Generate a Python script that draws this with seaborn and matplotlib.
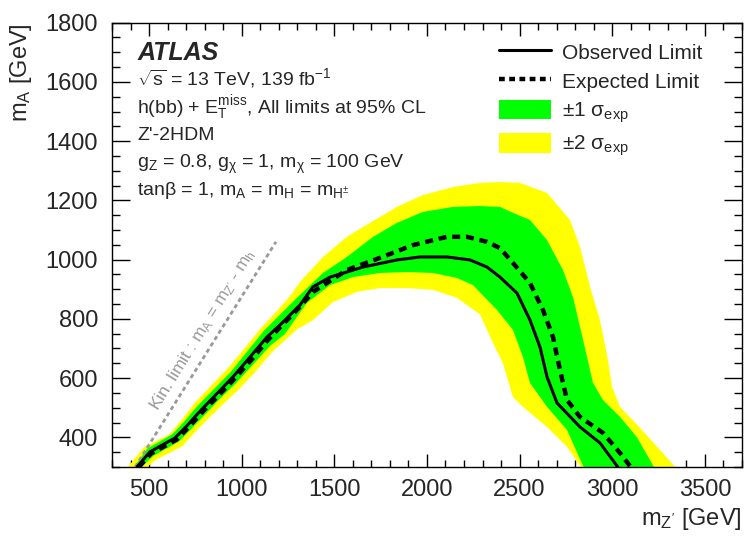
import numpy as np
import matplotlib
matplotlib.use("Agg")
import matplotlib.pyplot as plt
from matplotlib.lines import Line2D
from matplotlib.patches import Patch
from matplotlib.ticker import MultipleLocator
import seaborn as sns

# observed / expected limit contours (m_Z', m_A) in GeV
obs_x = [435, 505, 640, 700, 775, 867, 953, 1045, 1137, 1218, 1315, 1385, 1477, 1655,
         1838, 1962, 2108, 2232, 2324, 2394, 2486, 2556, 2610, 2648, 2702, 2826, 2934, 3030]
obs_y = [300, 351, 398, 436, 488, 548, 604, 671, 739, 786, 847, 908, 941, 975,
         999, 1009, 1009, 999, 975, 941, 887, 796, 705, 604, 516, 435, 381, 300]

exp_x = [445, 510, 650, 710, 790, 880, 960, 1050, 1140, 1220, 1310, 1385, 1568, 1746,
         1924, 2108, 2216, 2324, 2394, 2464, 2556, 2626, 2680, 2718, 2756, 2826, 2950, 3042, 3100]
exp_y = [300, 345, 393, 432, 487, 545, 597, 660, 728, 780, 838, 891, 965, 1006,
         1049, 1077, 1077, 1060, 1039, 989, 921, 830, 739, 627, 526, 469, 415, 347, 300]

# +1 sigma / -1 sigma contours
p1_x = [420, 490, 625, 685, 760, 855, 940, 1030, 1120, 1200, 1290, 1439, 1568, 1709, 1838,
        1978, 2140, 2286, 2394, 2464, 2556, 2648, 2734, 2788, 2826, 2864, 2896, 2950, 3042, 3133, 3225]
p1_y = [300, 362, 410, 450, 505, 566, 620, 690, 760, 810, 866, 955, 1009, 1077, 1124,
        1161, 1178, 1181, 1178, 1158, 1134, 1066, 965, 874, 773, 671, 584, 526, 469, 401, 300]
m1_x = [460, 525, 660, 718, 795, 882, 968, 1060, 1152, 1232, 1352, 1477, 1601, 1746, 1892,
        2032, 2162, 2248, 2378, 2464, 2518, 2556, 2648, 2756, 2845]
m1_y = [300, 338, 385, 422, 472, 530, 582, 645, 708, 748, 854, 914, 941, 955, 958,
        955, 938, 914, 830, 763, 671, 584, 503, 425, 300]

# +2 sigma / -2 sigma contours
p2_x = [386, 470, 610, 672, 745, 840, 928, 1018, 1108, 1188, 1262, 1315, 1439, 1568, 1692, 1838,
        1978, 2140, 2286, 2394, 2502, 2648, 2772, 2826, 2880, 2934, 2977, 2999, 3042, 3150, 3258, 3340]
p2_y = [300, 365, 410, 456, 515, 578, 635, 703, 772, 825, 878, 925, 1009, 1077, 1124, 1178,
        1218, 1245, 1259, 1262, 1259, 1225, 1134, 1043, 908, 796, 661, 570, 503, 432, 357, 300]
m2_x = [489, 540, 680, 735, 812, 900, 985, 1075, 1167, 1230, 1300, 1385, 1493, 1622, 1746, 1892,
        2032, 2162, 2286, 2356, 2410, 2464, 2518, 2648, 2756, 2830]
m2_y = [300, 325, 370, 408, 458, 512, 562, 622, 690, 725, 765, 796, 857, 891, 904, 904,
        898, 871, 815, 719, 651, 536, 503, 435, 368, 300]

# kinematic limit m_A = m_Z' - m_h
kin_x = [425, 1185]
kin_y = [300, 1060]

sns.set_style("ticks")
plt.rcParams['font.family'] = ['Liberation Sans', 'DejaVu Sans']
plt.rcParams['mathtext.fontset'] = 'custom'
plt.rcParams['mathtext.rm'] = 'Liberation Sans'
plt.rcParams['mathtext.it'] = 'Liberation Sans:italic'
plt.rcParams['mathtext.bf'] = 'Liberation Sans:bold'

fig = plt.figure(figsize=(7.45, 5.37), dpi=100)
ax = fig.add_axes([0.1503, 0.1304, 0.8456, 0.8274])

yellow = '#ffff00'
green = '#00ff00'

ax.fill(np.concatenate([p2_x, m2_x[::-1]]), np.concatenate([p2_y, m2_y[::-1]]),
        color=yellow, lw=0, zorder=1)
ax.fill(np.concatenate([p1_x, m1_x[::-1]]), np.concatenate([p1_y, m1_y[::-1]]),
        color=green, lw=0, zorder=2)

ax.plot(kin_x, kin_y, color='#999999', lw=2, ls=(0, (1.5, 1.2)), zorder=3)
sns.lineplot(x=exp_x, y=exp_y, sort=False, estimator=None, ax=ax,
             color='black', lw=3.2, ls=(0, (1.8, 1.3)), zorder=4)
sns.lineplot(x=obs_x, y=obs_y, sort=False, estimator=None, ax=ax,
             color='black', lw=2.2, zorder=5)

ax.text(790, 762, r"Kin. limit : m$_{\mathrm{A}}$ = m$_{\mathrm{Z'}}$ - m$_{\mathrm{h}}$",
        color='#999999', fontsize=12.5, rotation=58.4, rotation_mode='anchor',
        ha='center', va='center')

ax.set_xlim(300, 3700)
ax.set_ylim(300, 1800)
ax.xaxis.set_major_locator(MultipleLocator(500))
ax.xaxis.set_minor_locator(MultipleLocator(100))
ax.yaxis.set_major_locator(MultipleLocator(200))
ax.yaxis.set_minor_locator(MultipleLocator(50))
ax.tick_params(which='both', direction='in', top=True, right=True, width=1, color='black')
ax.tick_params(axis='y', which='major', length=13, labelsize=17, pad=10)
ax.tick_params(axis='y', which='minor', length=6)
ax.tick_params(axis='x', which='major', length=9.5, labelsize=17, pad=9)
ax.tick_params(axis='x', which='minor', length=5)
for s in ax.spines.values():
    s.set_linewidth(1)
    s.set_color('black')

ax.set_xlabel(r"m$_{\mathrm{Z'}}$ [GeV]", fontsize=17, loc='right')
ax.set_ylabel(r"m$_{\mathrm{A}}$ [GeV]", fontsize=17, loc='top')
ax.xaxis.set_label_coords(1.0, -0.088)
ax.yaxis.set_label_coords(-0.124, 1.0)

tx = 0.04
ax.text(tx, 0.916, "ATLAS", transform=ax.transAxes, fontsize=18,
        fontweight='bold', fontstyle='italic', va='baseline')
lines = [
    (0.860, r"$\sqrt{\mathrm{s}}$ = 13 TeV, 139 fb$^{\mathrm{-1}}$"),
    (0.797, r"h(bb) + E$_{\mathrm{T}}^{\mathrm{miss}}$, All limits at 95% CL"),
    (0.736, "Z'-2HDM"),
    (0.673, r"g$_{\mathrm{Z}}$ = 0.8, g$_{\mathrm{χ}}$ = 1, m$_{\mathrm{χ}}$ = 100 GeV"),
    (0.612, r"tanβ = 1, m$_{\mathrm{A}}$ = m$_{\mathrm{H}}$ = m$_{\mathrm{H^{\pm}}}$"),
]
for y, s in lines:
    ax.text(tx, y, s, transform=ax.transAxes, fontsize=14, va='baseline')

handles = [
    Line2D([], [], color='black', lw=2.2),
    Line2D([], [], color='black', lw=3.2, ls=(0, (1.3, 1.0))),
    Patch(facecolor=green, edgecolor='none'),
    Patch(facecolor=yellow, edgecolor='none'),
]
labels = ["Observed Limit", "Expected Limit",
          r"$\pm$1 σ$_{\mathrm{exp}}$", r"$\pm$2 σ$_{\mathrm{exp}}$"]
ax.legend(handles, labels, loc='upper left', bbox_to_anchor=(0.614, 0.957),
          frameon=False, fontsize=15, handlelength=2.5, handleheight=1.05,
          handletextpad=0.55, labelspacing=0.4, borderpad=0, borderaxespad=0)

fig.savefig("out.png", dpi=100)
